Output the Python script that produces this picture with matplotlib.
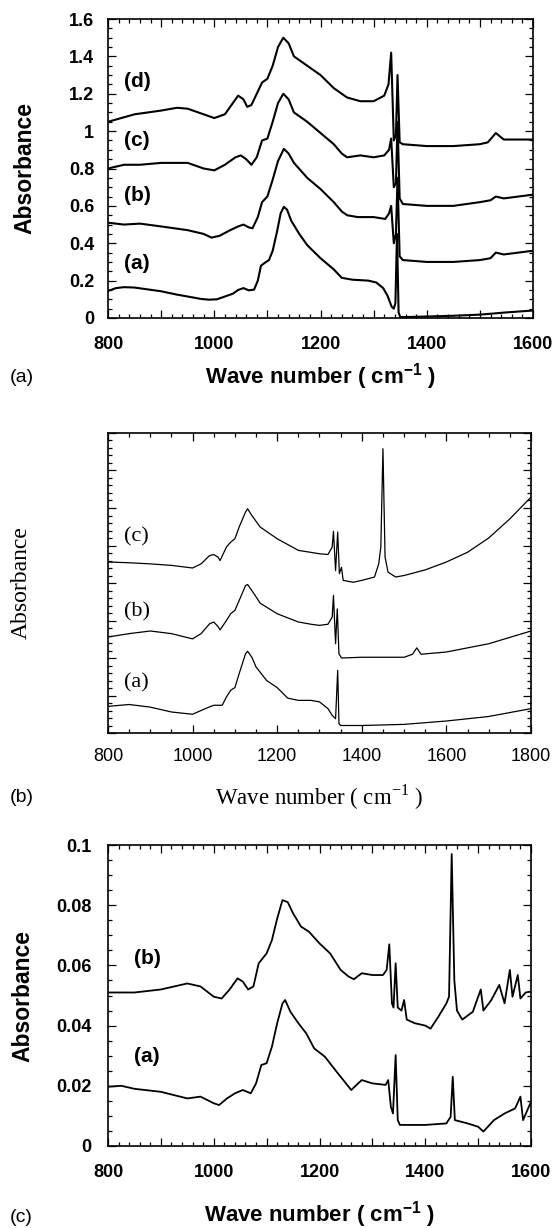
import matplotlib
matplotlib.use("Agg")
import matplotlib.pyplot as plt
from matplotlib.ticker import MultipleLocator, FuncFormatter

plt.rcParams['mathtext.fontset'] = 'custom'
plt.rcParams['mathtext.rm'] = 'Liberation Serif'
plt.rcParams['mathtext.bf'] = 'Liberation Sans:bold'

# ---- panel (a) spectra ----
wn_a1 = [800, 815, 830, 850, 870, 900, 930, 950, 975, 990, 1005, 1020, 1035, 1045, 1055, 1065, 1075,
         1082, 1088, 1095, 1103, 1110, 1118, 1125, 1131, 1137, 1145, 1160, 1175, 1200, 1225, 1240, 1260,
         1290, 1305, 1318, 1326, 1334, 1338, 1341, 1344, 1347, 1350, 1360, 1400, 1450, 1500, 1550, 1600]
abs_a1 = [0.145, 0.16, 0.165, 0.163, 0.155, 0.143, 0.125, 0.115, 0.102, 0.098, 0.10, 0.115, 0.13, 0.15,
          0.16, 0.148, 0.152, 0.2, 0.28, 0.295, 0.31, 0.36, 0.46, 0.56, 0.595, 0.58, 0.52, 0.45, 0.39,
          0.32, 0.26, 0.215, 0.205, 0.2, 0.19, 0.16, 0.12, 0.06, 0.05, 0.08, 0.45, 0.03, 0.005, 0.005,
          0.008, 0.012, 0.018, 0.03, 0.04]

wn_a2 = [800, 830, 860, 900, 950, 980, 995, 1010, 1030, 1045, 1055, 1065, 1072, 1082, 1090, 1100, 1110,
         1120, 1131, 1140, 1150, 1175, 1200, 1225, 1240, 1250, 1270, 1300, 1322, 1329, 1333, 1338, 1342,
         1345, 1349, 1355, 1400, 1450, 1500, 1520, 1530, 1545, 1600]
abs_a2 = [0.51, 0.50, 0.505, 0.49, 0.47, 0.45, 0.43, 0.44, 0.47, 0.49, 0.50, 0.485, 0.48, 0.54, 0.62,
          0.65, 0.74, 0.84, 0.905, 0.88, 0.83, 0.75, 0.69, 0.62, 0.57, 0.55, 0.54, 0.54, 0.53, 0.56,
          0.60, 0.40, 0.45, 0.75, 0.33, 0.31, 0.30, 0.30, 0.31, 0.32, 0.35, 0.34, 0.36]

wn_a3 = [800, 830, 860, 900, 950, 980, 1000, 1020, 1040, 1050, 1060, 1070, 1080, 1090, 1100, 1110, 1120,
         1130, 1140, 1150, 1175, 1200, 1225, 1240, 1250, 1275, 1300, 1320, 1329, 1333, 1338, 1342, 1345,
         1349, 1355, 1400, 1450, 1500, 1520, 1530, 1545, 1600]
abs_a3 = [0.80, 0.82, 0.82, 0.83, 0.83, 0.80, 0.79, 0.82, 0.86, 0.87, 0.85, 0.82, 0.86, 0.95, 0.96,
          1.05, 1.15, 1.20, 1.17, 1.10, 1.05, 0.99, 0.93, 0.88, 0.86, 0.87, 0.86, 0.87, 0.90, 0.96,
          0.70, 0.72, 1.05, 0.64, 0.61, 0.60, 0.60, 0.62, 0.63, 0.65, 0.64, 0.66]

wn_a4 = [800, 850, 900, 930, 950, 980, 1000, 1020, 1035, 1045, 1055, 1062, 1070, 1080, 1090, 1100, 1110,
         1120, 1130, 1140, 1150, 1175, 1200, 1225, 1250, 1275, 1300, 1320, 1328, 1333, 1338, 1342, 1345,
         1349, 1355, 1400, 1450, 1500, 1515, 1530, 1545, 1600]
abs_a4 = [1.05, 1.09, 1.11, 1.125, 1.12, 1.09, 1.07, 1.09, 1.15, 1.19, 1.17, 1.13, 1.14, 1.20, 1.26,
          1.28, 1.35, 1.45, 1.50, 1.47, 1.40, 1.35, 1.30, 1.23, 1.18, 1.16, 1.16, 1.19, 1.25, 1.42,
          0.95, 0.98, 1.30, 0.94, 0.93, 0.92, 0.92, 0.93, 0.94, 0.99, 0.955, 0.955]

labels_a = ['(a)', '(b)', '(c)', '(d)']
label_y_a = [0.294, 0.653, 0.949, 1.263]

# ---- panel (b) spectra (arbitrary units) ----
wn_b1 = [800, 850, 900, 950, 1000, 1030, 1050, 1070, 1080, 1090, 1100, 1110, 1125, 1130, 1140, 1150,
         1175, 1200, 1225, 1250, 1280, 1300, 1320, 1330, 1338, 1343, 1346, 1350, 1400, 1500, 1600,
         1700, 1800]
abs_b1 = [0.71, 0.76, 0.69, 0.56, 0.50, 0.65, 0.74, 0.74, 0.96, 1.14, 1.21, 1.58, 2.11, 2.18, 2.02,
          1.76, 1.40, 1.21, 0.93, 0.87, 0.87, 0.83, 0.65, 0.47, 0.38, 1.67, 0.25, 0.20, 0.20, 0.23,
          0.32, 0.44, 0.65]

wn_b2 = [800, 850, 900, 950, 1000, 1020, 1040, 1050, 1060, 1065, 1080, 1090, 1100, 1110, 1125, 1130,
         1140, 1160, 1200, 1250, 1280, 1300, 1320, 1330, 1333, 1338, 1342, 1346, 1352, 1400, 1500,
         1520, 1530, 1540, 1600, 1700, 1800]
abs_b2 = [2.56, 2.65, 2.72, 2.65, 2.51, 2.65, 2.91, 2.96, 2.84, 2.75, 3.0, 3.18, 3.27, 3.53, 3.93,
          3.96, 3.80, 3.46, 3.18, 2.96, 2.90, 2.87, 2.90, 3.09, 3.67, 2.38, 3.31, 2.11, 2.0, 2.02, 2.02,
          2.10, 2.27, 2.10, 2.16, 2.38, 2.72]

wn_b3 = [800, 850, 900, 950, 1000, 1020, 1040, 1050, 1060, 1065, 1080, 1090, 1100, 1110, 1125, 1130,
         1140, 1160, 1200, 1250, 1300, 1320, 1330, 1333, 1338, 1343, 1347, 1352, 1356, 1380, 1400,
         1430, 1440, 1445, 1450, 1455, 1462, 1480, 1500, 1550, 1600, 1650, 1700, 1750, 1800]
abs_b3 = [4.56, 4.54, 4.51, 4.47, 4.40, 4.51, 4.73, 4.76, 4.69, 4.60, 4.96, 5.09, 5.18, 5.49, 5.89,
          5.98, 5.80, 5.49, 5.18, 4.87, 4.78, 4.76, 4.96, 5.38, 4.33, 5.36, 4.25, 4.42, 4.07, 4.02,
          4.07, 4.16, 4.51, 4.96, 7.58, 4.69, 4.29, 4.16, 4.20, 4.35, 4.56, 4.82, 5.20, 5.71, 6.29]

labels_b = ['(a)', '(b)', '(c)']
label_y_b = [1.33, 3.22, 5.22]

# ---- panel (c) spectra ----
wn_c1 = [800, 825, 850, 900, 950, 975, 1000, 1010, 1025, 1040, 1055, 1070, 1080, 1090, 1100, 1110,
         1120, 1130, 1135, 1145, 1160, 1175, 1190, 1210, 1230, 1245, 1260, 1270, 1280, 1300, 1325,
         1330, 1335, 1339, 1344, 1348, 1352, 1400, 1440, 1448, 1452, 1456, 1480, 1500, 1510, 1530,
         1550, 1570, 1580, 1585, 1600]
abs_c1 = [0.0197, 0.020, 0.019, 0.018, 0.0158, 0.0164, 0.0142, 0.0136, 0.0158, 0.0175, 0.0186,
          0.0175, 0.0208, 0.0269, 0.0275, 0.033, 0.0408, 0.0474, 0.0485, 0.0446, 0.0408, 0.0374,
          0.0324, 0.0297, 0.0252, 0.0219, 0.0186, 0.0203, 0.0219, 0.0208, 0.0203, 0.0219, 0.013,
          0.0108, 0.0302, 0.0086, 0.007, 0.007, 0.0075, 0.0097, 0.023, 0.0086, 0.0075, 0.0064,
          0.0048, 0.0086, 0.0108, 0.0125, 0.0164, 0.0086, 0.0147]

wn_c2 = [800, 825, 850, 900, 950, 975, 1000, 1015, 1030, 1045, 1055, 1065, 1075, 1085, 1100, 1110,
         1120, 1130, 1140, 1150, 1165, 1180, 1200, 1220, 1240, 1255, 1265, 1280, 1300, 1320, 1327,
         1332, 1337, 1340, 1344, 1348, 1355, 1360, 1365, 1380, 1400, 1410, 1425, 1440, 1445, 1450,
         1455, 1460, 1470, 1490, 1505, 1510, 1525, 1540, 1550, 1560, 1565, 1575, 1580, 1590, 1600]
abs_c2 = [0.051, 0.051, 0.051, 0.052, 0.054, 0.053, 0.0496, 0.049, 0.052, 0.0557, 0.0546, 0.052,
          0.053, 0.0607, 0.064, 0.0684, 0.0756, 0.0817, 0.081, 0.0773, 0.0729, 0.0712, 0.0673,
          0.064, 0.0585, 0.0563, 0.0554, 0.0574, 0.0568, 0.0568, 0.0585, 0.0670, 0.0474, 0.046,
          0.0607, 0.046, 0.045, 0.0485, 0.042, 0.0408, 0.040, 0.039, 0.043, 0.0474, 0.0496, 0.097,
          0.055, 0.045, 0.042, 0.0446, 0.052, 0.045, 0.0485, 0.0535, 0.0474, 0.0585, 0.0496, 0.0568,
          0.049, 0.051, 0.0513]

labels_c = ['(a)', '(b)']
label_y_c = [0.0297, 0.0623]

W, H = 556, 1228
fig = plt.figure(figsize=(W / 100, H / 100), dpi=100)

SANS = 'Liberation Sans'
SERIF = 'Liberation Serif'


def style_axes(ax, lw):
    for sp in ax.spines.values():
        sp.set_linewidth(lw)
    ax.tick_params(which='both', direction='in', top=True, right=True, width=0.9)
    ax.tick_params(which='major', length=6)
    ax.tick_params(which='minor', length=3)


def every_other(step):
    return FuncFormatter(lambda v, p: '%d' % v if round(v) % step == 0 else '')


def place_labels(ax, xl, yl, ylx, xly):
    ax.yaxis.set_label_coords(ylx, 0.5)
    ax.xaxis.set_label_coords(0.5, xly)
    xl.set_verticalalignment('center')
    yl.set_verticalalignment('center')


# ---------- (a) ----------
ax1 = fig.add_axes([108 / W, 1 - 318 / H, 425 / W, 299 / H])
for x, y in [(wn_a1, abs_a1), (wn_a2, abs_a2), (wn_a3, abs_a3), (wn_a4, abs_a4)]:
    ax1.plot(x, y, color='black', lw=1.5)
ax1.set_xlim(800, 1600)
ax1.set_ylim(0, 1.6)
style_axes(ax1, 1.2)
ax1.xaxis.set_major_locator(MultipleLocator(100))
ax1.xaxis.set_minor_locator(MultipleLocator(20))
ax1.xaxis.set_major_formatter(every_other(200))
ax1.yaxis.set_major_locator(MultipleLocator(0.2))
ax1.yaxis.set_minor_locator(MultipleLocator(0.05))
ax1.yaxis.set_major_formatter(FuncFormatter(lambda v, p: '%g' % round(v, 2)))
ax1.tick_params(axis='x', pad=13)
ax1.tick_params(axis='y', pad=10)
for t in ax1.get_xticklabels() + ax1.get_yticklabels():
    t.set_fontfamily(SANS)
    t.set_fontweight('bold')
    t.set_fontsize(13)
for lab, ly in zip(labels_a, label_y_a):
    ax1.text(830, ly, lab, fontfamily=SANS, fontweight='bold', fontsize=15, va='center', ha='left')
yl = ax1.set_ylabel('Absorbance', fontfamily=SANS, fontweight='bold', fontsize=16.5)
xl = ax1.set_xlabel(r'Wave number ( cm$^{\mathbf{-1}}$ )', fontfamily=SANS, fontweight='bold',
                    fontsize=16)
place_labels(ax1, xl, yl, -0.195, -0.197)
fig.text(10 / W, 1 - 378 / H, '(a)', fontfamily=SANS, fontsize=14, va='center', ha='left')

# ---------- (b) ----------
ax2 = fig.add_axes([108 / W, 1 - 733 / H, 423 / W, 300 / H])
for x, y in [(wn_b1, abs_b1), (wn_b2, abs_b2), (wn_b3, abs_b3)]:
    ax2.plot(x, y, color='black', lw=0.9)
ax2.set_xlim(800, 1800)
ax2.set_ylim(0, 8)
style_axes(ax2, 1.2)
ax2.xaxis.set_major_locator(MultipleLocator(200))
ax2.xaxis.set_minor_locator(MultipleLocator(50))
ax2.yaxis.set_major_locator(MultipleLocator(1))
ax2.yaxis.set_minor_locator(MultipleLocator(0.2))
ax2.set_yticklabels([])
ax2.tick_params(axis='x', pad=11)
for t in ax2.get_xticklabels():
    t.set_fontfamily(SANS)
    t.set_fontsize(13)
for lab, ly in zip(labels_b, label_y_b):
    ax2.text(838, ly, lab, fontfamily=SERIF, fontsize=16, va='center', ha='left')
yl = ax2.set_ylabel('Absorbance', fontfamily=SERIF, fontsize=17)
xl = ax2.set_xlabel(r'Wave number ( cm$^{\mathrm{-1}}$ )', fontfamily=SERIF, fontsize=16.5)
place_labels(ax2, xl, yl, -0.205, -0.213)
fig.text(10 / W, 1 - 797 / H, '(b)', fontfamily=SANS, fontsize=14, va='center', ha='left')

# ---------- (c) ----------
ax3 = fig.add_axes([108 / W, 1 - 1146 / H, 423 / W, 301 / H])
for x, y in [(wn_c1, abs_c1), (wn_c2, abs_c2)]:
    ax3.plot(x, y, color='black', lw=1.3)
ax3.set_xlim(800, 1600)
ax3.set_ylim(0, 0.1)
style_axes(ax3, 1.2)
ax3.xaxis.set_major_locator(MultipleLocator(100))
ax3.xaxis.set_minor_locator(MultipleLocator(20))
ax3.xaxis.set_major_formatter(every_other(200))
ax3.yaxis.set_major_locator(MultipleLocator(0.02))
ax3.yaxis.set_minor_locator(MultipleLocator(0.005))
ax3.yaxis.set_major_formatter(FuncFormatter(lambda v, p: '%g' % round(v, 3)))
ax3.tick_params(axis='x', pad=13)
ax3.tick_params(axis='y', pad=12)
for t in ax3.get_xticklabels() + ax3.get_yticklabels():
    t.set_fontfamily(SANS)
    t.set_fontweight('bold')
    t.set_fontsize(13)
for lab, ly in zip(labels_c, label_y_c):
    ax3.text(850, ly, lab, fontfamily=SANS, fontweight='bold', fontsize=15, va='center', ha='left')
yl = ax3.set_ylabel('Absorbance', fontfamily=SANS, fontweight='bold', fontsize=16.5)
xl = ax3.set_xlabel(r'Wave number ( cm$^{\mathbf{-1}}$ )', fontfamily=SANS, fontweight='bold',
                    fontsize=16)
place_labels(ax3, xl, yl, -0.2, -0.229)
fig.text(10 / W, 1 - 1217 / H, '(c)', fontfamily=SANS, fontsize=14, va='center', ha='left')

fig.savefig('out.png', dpi=100)
